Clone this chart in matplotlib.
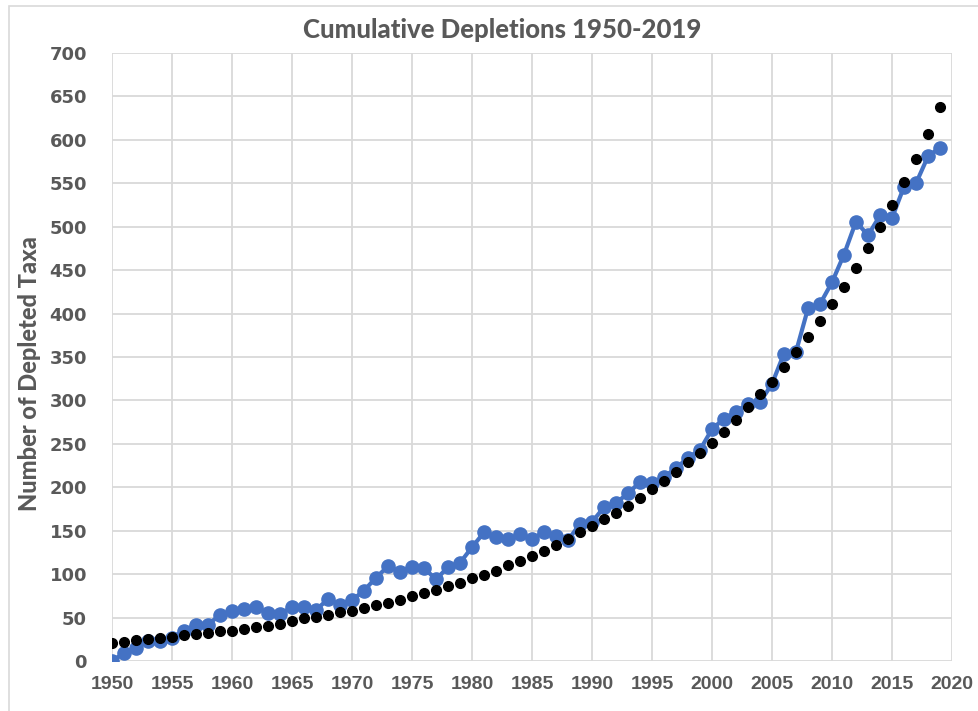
#!/usr/bin/env python3
"""Cumulative depletions 1950-2019: observed series vs fitted trend."""

import matplotlib
matplotlib.use("Agg")
import matplotlib.pyplot as plt
from matplotlib.patches import Rectangle

years = list(range(1950, 2020))

# observed cumulative depletions (blue line)
observed = [
    0, 9, 15, 23, 23, 27, 35, 42, 42, 53,
    57, 60, 62, 55, 54, 62, 62, 59, 71, 65,
    70, 81, 96, 109, 103, 108, 107, 94, 108, 113,
    131, 148, 143, 140, 146, 140, 149, 144, 139, 158,
    160, 177, 182, 193, 206, 205, 212, 222, 234, 243,
    267, 279, 287, 296, 298, 319, 354, 356, 406, 411,
    436, 468, 506, 490, 513, 510, 546, 550, 581, 591,
]

# trend points (black dots)
trend = [
    21, 22, 24, 25, 27, 28, 30, 31, 32, 34,
    35, 37, 39, 40, 43, 46, 49, 51, 53, 56,
    58, 61, 64, 67, 70, 75, 78, 82, 86, 90,
    95, 99, 104, 110, 115, 121, 127, 133, 140, 148,
    155, 163, 170, 179, 188, 198, 207, 218, 229, 240,
    251, 264, 278, 292, 307, 321, 338, 356, 373, 391,
    411, 431, 453, 475, 500, 525, 551, 578, 607, 638,
]

x_ticks = list(range(1950, 2021, 5))
y_ticks = list(range(0, 701, 50))

TEXT = "#595959"
GRID = "#D9D9D9"
BLUE = "#4472C4"

fig = plt.figure(figsize=(9.79, 7.11), dpi=100)
fig.patch.set_facecolor("white")
fig.patches.append(Rectangle((9 / 979, -0.01), 1.1, 1 - 6 / 711 + 0.01,
                             transform=fig.transFigure, fill=False,
                             edgecolor=GRID, linewidth=1.2))

ax = fig.add_axes([112 / 979, 1 - 661 / 711, 840 / 979, 608 / 711])

ax.plot(years, observed, color=BLUE, linewidth=3, marker="o",
        markersize=9.5, zorder=3)
ax.plot(years, trend, linestyle="none", marker="o", color="black",
        markersize=7, zorder=4)

ax.set_xlim(1950, 2020)
ax.set_ylim(0, 700)
ax.set_xticks(x_ticks)
ax.set_yticks(y_ticks)

for s in ax.spines.values():
    s.set_visible(False)
ax.grid(True, color=GRID, linewidth=1.3)
ax.set_axisbelow(True)
ax.tick_params(length=0)
ax.tick_params(axis="x", pad=11)
ax.tick_params(axis="y", pad=18)

for lbl in ax.get_xticklabels():
    lbl.set_fontfamily(["Liberation Sans", "DejaVu Sans"])
    lbl.set_fontweight("bold")
    lbl.set_fontsize(14)
    lbl.set_color(TEXT)
for lbl in ax.get_yticklabels():
    lbl.set_fontfamily(["DejaVu Sans"])
    lbl.set_fontweight("bold")
    lbl.set_fontsize(13)
    lbl.set_color(TEXT)

ax.set_ylabel("Number of Depleted Taxa", fontsize=17, fontweight=900,
              color=TEXT, family=["Lato", "DejaVu Sans"])
ax.yaxis.set_label_coords(-0.085, 0.472)
fig.text(0.513, 1 - 30 / 711, "Cumulative Depletions 1950-2019",
         ha="center", va="center", fontsize=18.5, fontweight=900,
         color=TEXT, family=["Lato", "DejaVu Sans"])

fig.savefig("out.png", dpi=100, facecolor="white")
plt.close(fig)
